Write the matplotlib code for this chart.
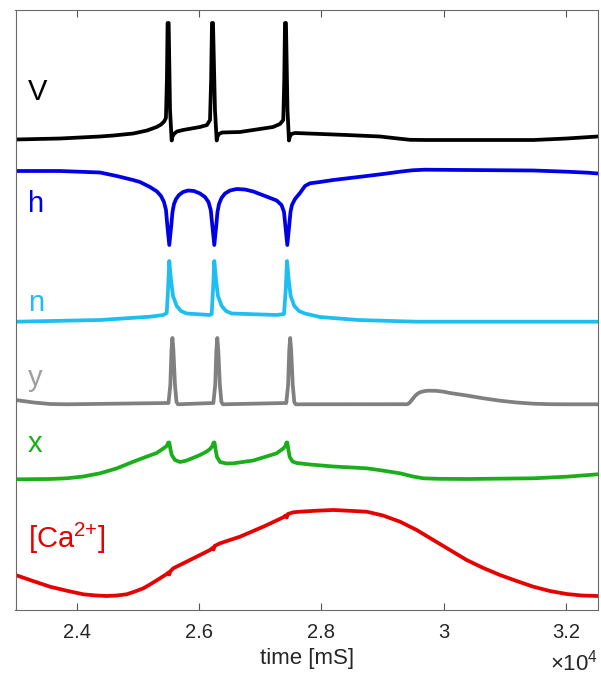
import matplotlib
matplotlib.use("Agg")
import matplotlib.pyplot as plt

plt.rcParams['font.family'] = ['Liberation Sans', 'DejaVu Sans']
plt.rcParams['mathtext.fontset'] = 'custom'
plt.rcParams['mathtext.rm'] = 'Liberation Sans'
plt.rcParams['mathtext.default'] = 'regular'

# ---- data (time in ms, values in stacked display units) ----
V_t = [23000, 23728, 24382, 24600, 24926, 25150, 25309, 25380, 25430, 25460, 25476, 25487, 25505, 25527,
       25554, 25565, 25590, 25640, 25739, 26017, 26131, 26181, 26199, 26213, 26230, 26262, 26290, 26301,
       26326, 26380, 26671, 27211, 27325, 27379, 27395, 27407, 27423, 27448, 27472, 27485, 27510, 27571,
       28000, 28416, 28961, 29250, 29451, 29700, 30596, 31468, 32014, 32521]
V_v = [470.5, 471.5, 473.5, 474.5, 476.5, 479.5, 483, 485.5, 488.5, 492, 530, 587, 587, 500,
       469.5, 473, 476, 478.5, 480, 483, 485, 490, 530, 587, 587, 500, 469.5, 473,
       476, 477.5, 478, 483, 486, 490, 530, 587, 587, 500, 469.5, 473, 476, 477,
       476, 475, 473.5, 471.5, 470.2, 470, 470, 470, 471.5, 473.5]

h_t = [23000, 23728, 24382, 24655, 24921, 25036, 25199, 25314, 25379, 25428, 25461, 25482, 25515,
       25548, 25567, 25592, 25625, 25674, 25739, 25821, 25919, 26017, 26099, 26156, 26193, 26218, 26251,
       26284, 26303, 26328, 26369, 26426, 26508, 26617, 26753, 26889, 27081, 27271, 27350, 27391, 27412,
       27445, 27477, 27497, 27521, 27571, 27652, 27734, 27816, 27979, 28197, 28470, 28743, 29010, 29288,
       29484, 29696, 31468, 32014, 32365, 32521]
h_v = [439, 439, 437.5, 434, 430, 428, 423, 418.5, 414, 408, 400, 385, 365,
       385, 398, 406, 411, 415, 418, 419.5, 419, 416.5, 413, 408, 400, 385, 365,
       385, 398, 406, 412, 416.5, 419.5, 421, 420.5, 418.5, 414, 409.5, 405, 398, 385,
       365, 385, 398, 405, 411, 417, 424, 426.7, 428, 430, 432, 434, 436, 438.3,
       439.7, 440.3, 439.5, 438.3, 437.3, 436.5]

n_t = [23000, 24382, 25199, 25417, 25473, 25494, 25515, 25543, 25576, 25636, 25706, 25800, 26181,
       26208, 26230, 26251, 26279, 26311, 26372, 26442, 26535, 27271, 27391, 27419, 27440, 27468,
       27500, 27560, 27636, 27734, 27979, 28600, 29561, 32521]
n_v = [288.3, 290, 293.3, 295, 297, 320, 349, 330, 314, 304, 299, 296.5, 295,
       296, 320, 349, 330, 314, 304, 299, 296.5, 295, 296, 320, 349, 330,
       314, 304, 299, 296.5, 293, 290, 288.3, 288.3]

y_t = [23000, 23300, 23564, 23837, 25502, 25532, 25551, 25566, 25582, 25608, 25633, 25657,
       26236, 26266, 26285, 26300, 26316, 26342, 26367, 26391,
       27428, 27458, 27477, 27492, 27508, 27534, 27559, 27583,
       29410, 29440, 29468, 29500, 29533, 29575, 29615, 29680, 29745, 29876, 30000, 30105, 30378,
       30650, 30923, 31196, 31470, 31741, 32000, 32521]
y_v = [210, 207.5, 206, 205.7, 207, 225, 260, 272, 260, 225, 208, 205.7,
       207, 225, 260, 272, 260, 225, 208, 205.7,
       207, 225, 260, 272, 260, 225, 208, 205.7,
       205.8, 207, 209, 211.5, 214, 216.3, 217.7, 218.8, 219.3, 219.2, 218.3, 217, 214.5,
       211.7, 209.3, 207.5, 206.3, 205.8, 205.7, 205.7]

x_t = [23000, 23564, 23837, 24109, 24382, 24650, 24926, 25150, 25309, 25417, 25473, 25500, 25515,
       25530, 25555, 25608, 25690, 25800, 26017, 26127, 26181, 26220, 26240, 26255, 26270, 26295, 26344,
       26450, 26562, 26889, 27271, 27379, 27415, 27430, 27445, 27460, 27485, 27530, 27600, 27816, 28197,
       28743, 29000, 29288, 29500, 29669, 29900, 30378, 31468, 32014, 32521]
x_v = [130.7, 131, 131.7, 133.5, 136.7, 141.5, 148.3, 153.5, 157, 161.5, 164, 167.5, 167.5,
       162, 155, 150, 148, 149.5, 155, 158.5, 161, 164, 167.5, 167.5, 161, 153, 148,
       146.5, 146.7, 149.5, 156.7, 161.5, 164, 167.5, 167.5, 161, 153, 148.5, 147, 145.5, 143.5,
       141.7, 139.5, 136.7, 133.5, 131.7, 131.2, 131, 131.7, 133.3, 135.7]

ca_t = [23000, 23286, 23564, 23837, 24109, 24300, 24491, 24655, 24818, 24954, 25090, 25199, 25363,
        25473, 25500, 25515, 25530, 25580, 25854, 26181, 26220, 26240, 26255, 26344, 26671, 27052,
        27379, 27415, 27435, 27455, 27543, 27652, 27926, 28197, 28307, 28743, 29010, 29288, 29561,
        29832, 30105, 30378, 30650, 30923, 31196, 31468, 31741, 32014, 32264, 32521]
ca_v = [35, 29, 23.3, 19.3, 15.7, 14.6, 14, 14.5, 15.7, 18.5, 21.7, 25.5, 31.7,
        36, 37.5, 35.5, 38.5, 41.7, 50, 60, 62, 60.5, 64, 66.7, 73.3, 83.3,
        92.7, 94.5, 92.5, 96, 97.7, 98.3, 99.3, 100, 99.7, 98.3, 94.5, 88.3, 80,
        70, 60, 50, 42, 35, 29, 23.3, 19, 16, 14.5, 14]

trace_names = ['V', 'h', 'n', 'y', 'x', r'[Ca$^{2\text{+}}$]']
trace_colors = ['#000000', '#0000e6', '#1ebef0', '#808080', '#1aae1a', '#e60000']
label_colors = ['#000000', '#0000e6', '#1ebef0', '#a0a0a0', '#1aae1a', '#e60000']
label_y = [0.850, 0.6638, 0.4988, 0.3738, 0.2638, 0.1028]

xtick_vals = [24000, 26000, 28000, 30000, 32000]
xtick_labels = ['2.4', '2.6', '2.8', '3', '3.2']

# ---- figure ----
fig = plt.figure(figsize=(6.01, 6.75), dpi=100)
ax = fig.add_axes([15.5 / 601, 65 / 675, 582.2 / 601, 600 / 675])

series = [(V_t, V_v), (h_t, h_v), (n_t, n_v), (y_t, y_v), (x_t, x_v), (ca_t, ca_v)]
for (tt, vv), col in zip(series, trace_colors):
    ax.plot(tt, vv, color=col, lw=2.7, solid_joinstyle='round', solid_capstyle='round')

for name, col, ly in zip(trace_names, label_colors, label_y):
    ax.text(0.0215, ly, name, transform=ax.transAxes, color=col, fontsize=21,
            ha='left', va='baseline')

ax.set_xlim(23000, 32521)
ax.set_ylim(0, 600)
ax.set_yticks([])
ax.set_xticks(xtick_vals)
ax.set_xticklabels(xtick_labels)
ax.tick_params(axis='x', direction='in', top=True, bottom=True, length=5, width=0.8,
               color='#555555', labelsize=14.5, labelcolor='#262626', pad=9)
for s in ax.spines.values():
    s.set_color('#6a6a6a')
    s.set_linewidth(0.8)
ax.set_xlabel('time [mS]', fontsize=16, color='#262626', labelpad=5)
ax.text(1.0, -0.1, '×10$^{4}$', transform=ax.transAxes, ha='right', va='baseline',
        fontsize=16, color='#262626')

fig.savefig('out.png', dpi=100)
